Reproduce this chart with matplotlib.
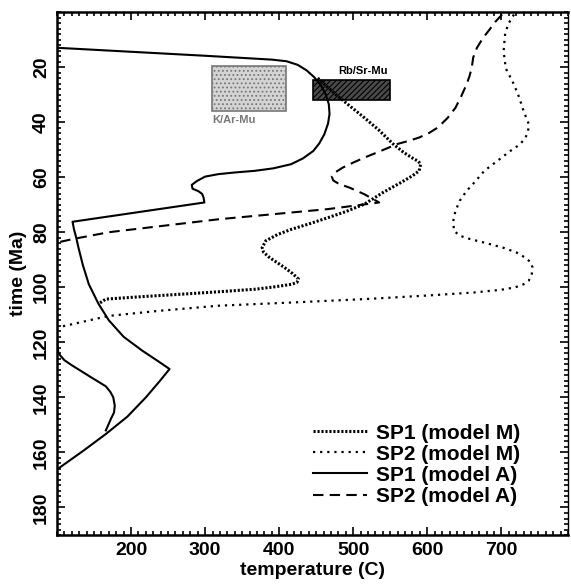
import matplotlib
matplotlib.use("Agg")
import matplotlib.pyplot as plt
from matplotlib.patches import Rectangle
from matplotlib.ticker import MultipleLocator

# temperature (C) / time (Ma) paths for the two sample points
sp1_m_temp = [452, 466, 481, 497, 515, 535, 554, 568, 579, 588, 591, 589, 580, 564, 540, 515, 490, 466, 440, 417,
              398, 382, 377, 379, 387, 397, 407, 418, 426, 424, 417, 395, 368, 320, 269, 215, 166, 156]
sp1_m_time = [24, 27.5, 31, 34.5, 38.4, 43, 48, 51, 52.9, 54.3, 55.3, 57.7, 59.5, 62, 65.6, 69.8, 72.5, 74.7, 77, 78.9,
              80.8, 83.1, 85.6, 87.3, 89.2, 91, 92.8, 95, 97, 98.2, 98.9, 99.8, 100.7, 101.6, 102.5, 103.4, 104.3, 106]

sp2_m_temp = [717, 709, 705, 703, 706, 717, 724, 730, 737, 736, 732, 724, 712, 695, 677, 665, 653, 644, 638, 635, 636,
              644, 658, 680, 702, 720, 732, 740, 742, 741, 737, 730, 719, 700, 663, 600, 515, 420, 318, 240, 170, 101]
sp2_m_time = [0.9, 4.5, 8.2, 14.2, 20.5, 26.3, 31, 36, 40.7, 43.5, 46, 48.3, 50.5, 54, 57.7, 61.5, 65, 68.5, 72.2, 76, 79.5,
              81.3, 82.5, 84, 85.6, 87.3, 89.2, 91, 92.8, 95.2, 97.6, 98.9, 100, 100.9, 101.9, 103, 104.3, 105.5, 106.7, 108.5, 110.4, 114.6]

sp1_a_temp = [100, 300, 390, 410, 425, 437, 447, 456, 463, 467, 468, 466, 461, 454, 446, 432, 416, 392, 367, 340, 318, 300,
              289, 282, 283, 291, 296, 298, 299,
              121, 123, 126, 129, 135, 143, 156, 170, 190, 215, 239, 252, 239, 220, 195, 166, 136, 101]
sp1_a_time = [13, 15.9, 17.3, 17.9, 19.2, 21.2, 23.6, 26.5, 30, 33.5, 37, 40.5, 44.4, 47.8, 50.5, 53.2, 55.3, 56.8, 57.7, 58.3, 58.9, 59.8,
              61.4, 62.8, 64.2, 65.1, 66.1, 67.5, 69.2,
              76.2, 79, 82, 85.6, 92, 98.9, 106, 112, 118, 123, 127.3, 129.7, 134, 140, 147, 153.3, 159.3, 166]
sp1_a_branch_temp = [100, 100.5, 102, 110, 121, 133, 146, 157, 166, 172, 176, 178, 177, 173, 166]
sp1_a_branch_time = [117, 121, 124, 126.5, 128.5, 130.5, 132.7, 134.5, 136, 138, 140, 143, 145.5, 147.7, 152]

sp2_a_temp = [701, 692, 684, 675, 667, 662, 660, 657, 653, 646, 638, 627, 614, 602, 589, 575, 559, 537, 515, 500, 486,
              476, 471, 473, 481, 495, 515, 535, 466, 318, 170, 121, 101]
sp2_a_time = [0.9, 3.5, 6.4, 9.5, 13, 16.5, 20.2, 23.3, 26.3, 30.5, 34.8, 38.6, 42, 44, 45.6, 46.8, 48, 50.5, 52.9, 54.7, 56.5,
              58.2, 59.7, 61.2, 62.5, 63.8, 66.2, 69.2, 71.6, 75.3, 80, 82.5, 83.7]

# mineral age constraints: (T min, T max, t min, t max)
kar_box = (309, 409, 19.6, 36)
rbsr_box = (446, 549, 24.8, 32)

x_ticks = [200, 300, 400, 500, 600, 700]
y_ticks = [20, 40, 60, 80, 100, 120, 140, 160, 180]

plt.rcParams["font.family"] = ["Liberation Sans", "DejaVu Sans"]
plt.rcParams["font.weight"] = "bold"
plt.rcParams["hatch.linewidth"] = 0.8

fig = plt.figure(figsize=(5.71, 5.88), dpi=100)
ax = fig.add_axes([0.0998, 0.0901, 0.895, 0.8895])

ax.plot(sp1_m_temp, sp1_m_time, color="black", lw=2.2, ls=(0, (0.7, 0.6)), label="SP1 (model M)")
ax.plot(sp2_m_temp, sp2_m_time, color="black", lw=1.6, ls=(0, (1.0, 2.2)), label="SP2 (model M)")
ax.plot(sp1_a_temp, sp1_a_time, color="black", lw=1.5, label="SP1 (model A)")
ax.plot(sp1_a_branch_temp, sp1_a_branch_time, color="black", lw=1.5)
ax.plot(sp2_a_temp, sp2_a_time, color="black", lw=1.5, ls=(0, (5, 3)), label="SP2 (model A)")

t0, t1, a0, a1 = kar_box
ax.add_patch(Rectangle((t0, a0), t1 - t0, a1 - a0, facecolor="#d4d4d4",
                       edgecolor="#777777", hatch="....", lw=1.2, zorder=1))
ax.text(t0, a1 + 1.5, "K/Ar-Mu", color="#777777", fontsize=8, fontweight="bold",
        ha="left", va="top")

t0, t1, a0, a1 = rbsr_box
ax.add_patch(Rectangle((t0, a0), t1 - t0, a1 - a0, facecolor="#4a4a4a",
                       edgecolor="black", hatch="//////", lw=1.2, zorder=1))
ax.text(t1 - 2, a0 - 1.5, "Rb/Sr-Mu", color="black", fontsize=8, fontweight="bold",
        ha="right", va="bottom")

ax.set_xlim(100, 790)
ax.set_ylim(190, 0)
ax.set_xticks(x_ticks)
ax.set_yticks(y_ticks)
ax.xaxis.set_minor_locator(MultipleLocator(10))
ax.yaxis.set_minor_locator(MultipleLocator(2))
ax.tick_params(which="both", direction="in", top=True, right=True, width=1.2)
ax.tick_params(which="major", length=6, labelsize=14, pad=5)
ax.tick_params(which="minor", length=3)
for lbl in ax.get_yticklabels():
    lbl.set_rotation(90)
    lbl.set_va("center")
for side in ["left", "bottom", "top"]:
    ax.spines[side].set_linewidth(1.8)
ax.spines["right"].set_linewidth(1.0)

ax.set_xlabel("temperature (C)", fontsize=14, fontweight="bold", labelpad=2)
ax.set_ylabel("time (Ma)", fontsize=14, fontweight="bold", labelpad=4)

ax.legend(loc="upper left", bbox_to_anchor=(0.50, 0.213), frameon=False, fontsize=15,
          handlelength=2.6, handletextpad=0.45, labelspacing=0.1, borderpad=0, borderaxespad=0)

fig.savefig("out.png", dpi=100)
